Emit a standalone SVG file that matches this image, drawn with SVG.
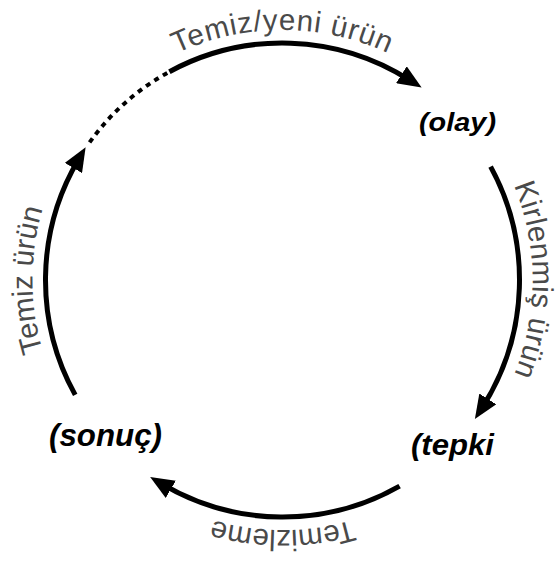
<svg xmlns="http://www.w3.org/2000/svg" xmlns:xlink="http://www.w3.org/1999/xlink" width="560" height="566" viewBox="0 0 560 566">
  <style>
    .flow { fill: none; stroke: #000; stroke-width: 5; }
    .flow-dash { fill: none; stroke: #000; stroke-width: 4; stroke-dasharray: 5 5; }
    .arc-label { font-family: "Liberation Sans", Arial, sans-serif; font-size: 29.5px; fill: #4a4a4a; }
    .node-label { font-family: "Liberation Sans", Arial, sans-serif; font-weight: bold; font-style: italic; fill: #000; }
  </style>
  <defs>
    <marker id="arrow" markerUnits="userSpaceOnUse" viewBox="0 0 24 20" markerWidth="24" markerHeight="20" refX="10" refY="10" orient="auto">
      <path d="M0,0 L24,10 L0,20 z" fill="#000"/>
    </marker>
    <!-- clockwise ring (r=250) used as baseline for the flow labels, starting at 135° -->
    <path id="labelRing" d="M105.72,456.78 A250,250 0 1 1 459.28,103.22 A250,250 0 1 1 105.72,456.78"/>
  </defs>

  <g id="connectors">
    <!-- top: sonuç -> olay -->
    <path class="flow-dash" d="M89.6,142.4 A237,237 0 0 1 169.4,71.7"/>
    <path class="flow" d="M169.4,71.7 A237,237 0 0 1 409.8,80.1" marker-end="url(#arrow)"/>
    <!-- right: olay -> tepki -->
    <path class="flow" d="M490.6,166.6 A237,237 0 0 1 482.4,407.3" marker-end="url(#arrow)"/>
    <!-- bottom: tepki -> sonuç -->
    <path class="flow" d="M399.6,486.1 A237,237 0 0 1 162.2,484.2" marker-end="url(#arrow)"/>
    <!-- left: sonuç -> top -->
    <path class="flow" d="M75.2,394.9 A237,237 0 0 1 78.5,159.4" marker-end="url(#arrow)"/>

    <text class="arc-label"><textPath xlink:href="#labelRing" href="#labelRing" startOffset="37.5%" text-anchor="middle" letter-spacing="0.8">Temiz/yeni ürün</textPath></text>
    <text class="arc-label"><textPath xlink:href="#labelRing" href="#labelRing" startOffset="62.5%" text-anchor="middle" letter-spacing="0.4">Kirlenmiş ürün</textPath></text>
    <text class="arc-label"><textPath xlink:href="#labelRing" href="#labelRing" startOffset="87.5%" text-anchor="middle">Temizleme</textPath></text>
    <text class="arc-label"><textPath xlink:href="#labelRing" href="#labelRing" startOffset="12.5%" text-anchor="middle">Temiz ürün</textPath></text>
  </g>

  <g id="node-olay">
    <text class="node-label" x="419" y="131" font-size="26" textLength="77" lengthAdjust="spacingAndGlyphs">(olay)</text>
  </g>
  <g id="node-tepki">
    <text class="node-label" x="411" y="455" font-size="30" textLength="83" lengthAdjust="spacingAndGlyphs">(tepki</text>
  </g>
  <g id="node-sonuc">
    <text class="node-label" x="49" y="446" font-size="32" textLength="113" lengthAdjust="spacingAndGlyphs">(sonuç)</text>
  </g>
</svg>
